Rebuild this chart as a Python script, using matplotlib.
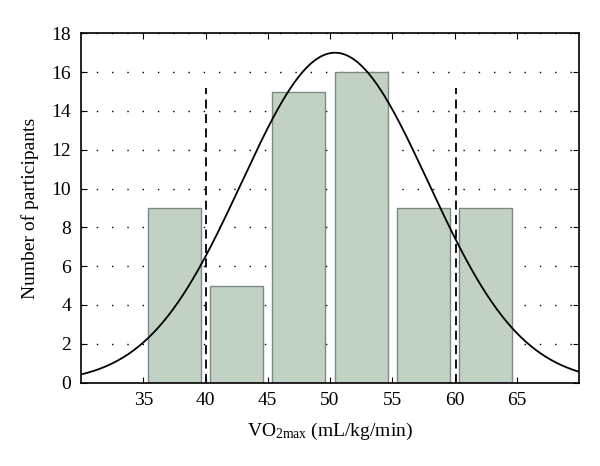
import numpy as np
import matplotlib
matplotlib.use("Agg")
import matplotlib.pyplot as plt

# histogram of VO2max
bin_centers = [37.5, 42.5, 47.5, 52.5, 57.5, 62.5]
counts = [9, 5, 15, 16, 9, 9]
bar_width = 4.25

# fitted normal curve (peak height, mean, sd)
fit_mean = 50.4
fit_sd = 7.5
fit_peak = 17.0

# dashed reference lines
ref_x = [40.0, 60.1]
ref_top = 15.2

x_ticks = [35, 40, 45, 50, 55, 60, 65]
y_ticks = [0, 2, 4, 6, 8, 10, 12, 14, 16, 18]

plt.rcParams['font.family'] = ['Liberation Serif', 'DejaVu Serif']
plt.rcParams['mathtext.fontset'] = 'custom'
plt.rcParams['mathtext.rm'] = 'Liberation Serif'
plt.rcParams['mathtext.it'] = 'Liberation Serif:italic'

fig = plt.figure(figsize=(6, 4.66), dpi=100)
ax = fig.add_axes([0.135, 0.179, 0.83, 0.7495])

ax.bar(bin_centers, counts, width=bar_width, color='#c1d1c4',
       edgecolor='#7d8a82', linewidth=1.0, zorder=2)

xs = np.linspace(30, 70, 400)
ax.plot(xs, fit_peak * np.exp(-(xs - fit_mean) ** 2 / (2 * fit_sd ** 2)),
        color='black', lw=1.3, zorder=4)

ax.vlines(ref_x, 0, ref_top, colors='black', linestyles=(0, (5, 3)),
          lw=1.3, zorder=3)

ax.set_xlim(30, 70)
ax.set_ylim(0, 18)
ax.set_xticks(x_ticks)
ax.set_yticks(y_ticks)
ax.tick_params(direction='in', top=True, right=True, length=4,
               labelsize=14, pad=7)
ax.yaxis.grid(True, linestyle=(0, (1, 10)), color='black', lw=1.0)
ax.set_axisbelow(True)
for s in ax.spines.values():
    s.set_linewidth(1.2)

ax.set_xlabel(r'VO$_{\mathrm{2max}}$ (mL/kg/min)', fontsize=14, labelpad=8)
ax.set_ylabel('Number of participants', fontsize=14, labelpad=9)

fig.savefig('out.png', dpi=100)
